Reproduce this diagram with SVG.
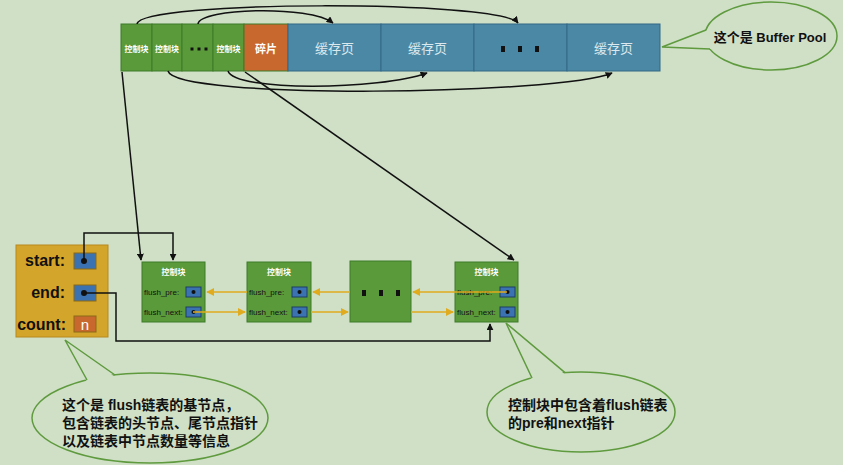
<svg xmlns="http://www.w3.org/2000/svg" width="843" height="465" viewBox="0 0 843 465">
<style>
.cjk{font-family:"Liberation Sans","Noto Sans CJK SC",sans-serif}
.g{fill:#5b9a3b;stroke:#3e7b29;stroke-width:1}
.o{fill:#c9682e;stroke:#3e7b29;stroke-width:1}
.b{fill:#4a88a6;stroke:#336985;stroke-width:1}
.cb{font-size:8px;font-weight:bold;fill:#ffffff}
.pg{font-size:13px;fill:#dbe8ee}
.lbl{font-size:8px;fill:#111}
.pbox{fill:#3a72b2;stroke:#1e3e66;stroke-width:1}
.blk{stroke:#111;stroke-width:1.5;fill:none}
.yl{stroke:#e0ab1e;stroke-width:1.5;fill:none}
.call{fill:#cfe0c6;stroke:#5f9a3e;stroke-width:1.5}
.tailf{fill:#cfe0c6;stroke:none}
.tails{fill:none;stroke:#5f9a3e;stroke-width:1.5;stroke-linejoin:miter}
.ct{font-size:14px;font-weight:bold;fill:#111}
</style>
<defs>
<marker id="ab" viewBox="0 0 10 10" refX="9" refY="5" markerWidth="7" markerHeight="7" orient="auto" markerUnits="userSpaceOnUse"><path d="M0,0 L10,5 L0,10 z" fill="#111"/></marker>
<marker id="ay" viewBox="0 0 10 10" refX="9" refY="5" markerWidth="8" markerHeight="8" orient="auto" markerUnits="userSpaceOnUse"><path d="M0,0 L10,5 L0,10 z" fill="#e0ab1e"/></marker>
</defs>
<rect width="843" height="465" fill="#cfe0c6"/>

<g id="buffer-pool">
<rect class="g" x="121" y="24" width="31" height="47"/>
<rect class="g" x="152" y="24" width="30" height="47"/>
<rect class="g" x="182" y="24" width="31" height="47"/>
<rect class="g" x="213" y="24" width="31" height="47"/>
<rect class="o" x="244" y="24" width="44" height="47"/>
<rect class="b" x="288" y="24" width="93" height="47"/>
<rect class="b" x="381" y="24" width="93" height="47"/>
<rect class="b" x="474" y="24" width="93" height="47"/>
<rect class="b" x="567" y="24" width="93" height="47"/>
<text class="cjk cb" x="136.5" y="52" text-anchor="middle">控制块</text>
<text class="cjk cb" x="167" y="52" text-anchor="middle">控制块</text>
<rect x="190.5" y="47.5" width="3" height="3" fill="#111"/>
<rect x="197.5" y="47.5" width="3" height="3" fill="#111"/>
<rect x="204.5" y="47.5" width="3" height="3" fill="#111"/>
<text class="cjk cb" x="228.5" y="52" text-anchor="middle">控制块</text>
<text class="cjk" x="266" y="53" text-anchor="middle" font-size="11" font-weight="bold" fill="#fff">碎片</text>
<text class="cjk pg" x="334.5" y="53" text-anchor="middle">缓存页</text>
<text class="cjk pg" x="427.5" y="53" text-anchor="middle">缓存页</text>
<rect x="501" y="46" width="4" height="6" fill="#111"/>
<rect x="518" y="46" width="4" height="6" fill="#111"/>
<rect x="535" y="46" width="4" height="6" fill="#111"/>
<text class="cjk pg" x="613.5" y="53" text-anchor="middle">缓存页</text>
</g>

<g id="base-node">
<rect x="16" y="245" width="92" height="92" fill="#d4a52b" stroke="#b8891c" stroke-width="1"/>
<text class="cjk" x="65" y="266" text-anchor="end" font-size="16" font-weight="bold" fill="#111">start:</text>
<text class="cjk" x="65" y="298" text-anchor="end" font-size="16" font-weight="bold" fill="#111">end:</text>
<text class="cjk" x="66" y="330" text-anchor="end" font-size="16" font-weight="bold" fill="#111">count:</text>
<rect x="74" y="253" width="22" height="16" fill="#3a72b2" stroke="#8a6a18"/>
<rect x="74" y="285" width="22" height="16" fill="#3a72b2" stroke="#8a6a18"/>
<rect x="74" y="316" width="22" height="16" fill="#c9682e" stroke="#8a6a18"/>
<text class="cjk" x="85" y="330" text-anchor="middle" font-size="15" fill="#fff">n</text>
<circle cx="84" cy="261" r="3" fill="#111"/>
<circle cx="84" cy="293" r="3" fill="#111"/>
</g>

<g id="ctrl-1">
<rect class="g" x="142" y="262" width="63" height="60"/>
<text class="cjk cb" x="173.5" y="275" text-anchor="middle">控制块</text>
<text class="cjk lbl" x="144" y="295">flush_pre:</text>
<text class="cjk lbl" x="144" y="315">flush_next:</text>
<rect class="pbox" x="186" y="287" width="15" height="10"/>
<rect class="pbox" x="186" y="307" width="15" height="10"/>
<circle cx="193.5" cy="292" r="2" fill="#111"/>
<circle cx="193.5" cy="312" r="2" fill="#111"/>
</g>
<g id="ctrl-2">
<rect class="g" x="247" y="262" width="64" height="60"/>
<text class="cjk cb" x="279" y="275" text-anchor="middle">控制块</text>
<text class="cjk lbl" x="249" y="295">flush_pre:</text>
<text class="cjk lbl" x="249" y="315">flush_next:</text>
<rect class="pbox" x="292" y="287" width="15" height="10"/>
<rect class="pbox" x="292" y="307" width="15" height="10"/>
<circle cx="299.5" cy="292" r="2" fill="#111"/>
<circle cx="299.5" cy="312" r="2" fill="#111"/>
</g>
<g id="ctrl-more">
<rect class="g" x="350" y="261" width="61" height="61"/>
<rect x="362" y="290" width="4" height="6" fill="#111"/>
<rect x="379" y="290" width="4" height="6" fill="#111"/>
<rect x="396" y="290" width="4" height="6" fill="#111"/>
</g>
<g id="ctrl-n">
<rect class="g" x="455" y="262" width="63" height="60"/>
<text class="cjk cb" x="486.5" y="275" text-anchor="middle">控制块</text>
<text class="cjk lbl" x="457" y="295">flush_pre:</text>
<text class="cjk lbl" x="457" y="315">flush_next:</text>
<rect class="pbox" x="500" y="287" width="15" height="10"/>
<rect class="pbox" x="500" y="307" width="15" height="10"/>
<circle cx="507.5" cy="292" r="2" fill="#111"/>
<circle cx="507.5" cy="312" r="2" fill="#111"/>
</g>

<g id="connectors">
<path class="blk" d="M137,24 C140,0 500,0 518,23" marker-end="url(#ab)"/>
<path class="blk" d="M198,24 C200,8 310,5 333,23" marker-end="url(#ab)"/>
<path class="blk" d="M228,71 C235,92 380,90 427,73" marker-end="url(#ab)"/>
<path class="blk" d="M168,71 C175,100 560,95 612,73" marker-end="url(#ab)"/>
<path class="blk" d="M122,72 L141,260" marker-end="url(#ab)"/>
<path class="blk" d="M245,72 L514,260" marker-end="url(#ab)"/>
<path class="blk" d="M84,261 L84,233 L173,233 L173,260" marker-end="url(#ab)"/>
<path class="blk" d="M84,293 L116,293 L116,341 L490,341 L490,324" marker-end="url(#ab)"/>
<path class="yl" d="M247,292 L207,292" marker-end="url(#ay)"/>
<path class="yl" d="M193,312 L245,312" marker-end="url(#ay)"/>
<path class="yl" d="M350,292 L313,292" marker-end="url(#ay)"/>
<path class="yl" d="M311,312 L348,312" marker-end="url(#ay)"/>
<path class="yl" d="M507,292 L413,292" marker-end="url(#ay)"/>
<path class="yl" d="M411,312 L453,312" marker-end="url(#ay)"/>
</g>

<g id="callout-buffer">
<ellipse class="call" cx="771" cy="36" rx="66" ry="34"/>
<polygon class="tailf" points="708,30 662,47 712,49 716,40"/>
<polyline class="tails" points="706,30 662,47 710,49"/>
<text class="cjk" x="770" y="42" text-anchor="middle" font-size="13" font-weight="bold" fill="#111">这个是 Buffer Pool</text>
</g>
<g id="callout-base">
<ellipse class="call" cx="150" cy="418" rx="118" ry="45"/>
<polygon class="tailf" points="87,382 65,340 115,377 100,385"/>
<polyline class="tails" points="87,380 65,340 115,375"/>
<text class="cjk ct" x="62" y="410">这个是 flush链表的基节点，</text>
<text class="cjk ct" x="62" y="428">包含链表的头节点、尾节点指针</text>
<text class="cjk ct" x="62" y="446">以及链表中节点数量等信息</text>
</g>
<g id="callout-ctrl">
<ellipse class="call" cx="581" cy="412" rx="94" ry="40"/>
<polygon class="tailf" points="532,380 506,323 565,374.5 548,382"/>
<polyline class="tails" points="532,378 506,323 565,372.6"/>
<text class="cjk ct" x="508" y="410">控制块中包含着flush链表</text>
<text class="cjk ct" x="508" y="428">的pre和next指针</text>
</g>
</svg>
